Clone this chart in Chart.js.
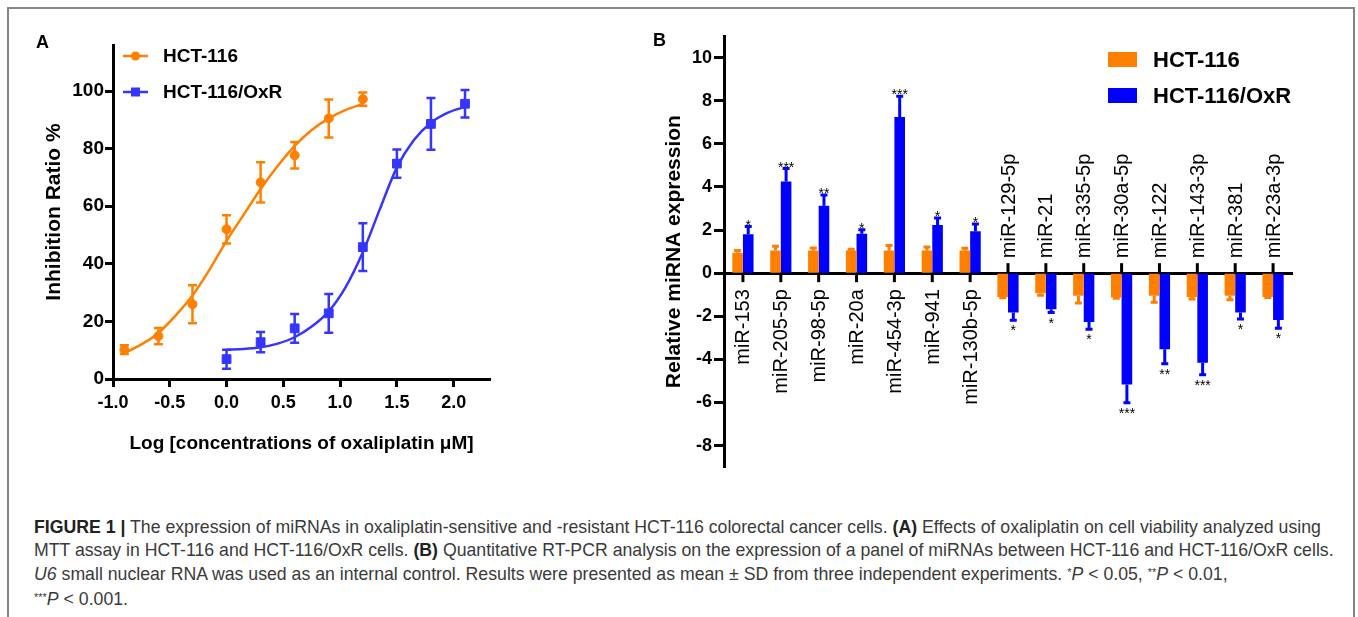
<!DOCTYPE html>
<html>
<head>
<meta charset="utf-8">
<script src="https://cdn.jsdelivr.net/npm/chart.js@4.4.1/dist/chart.umd.min.js"></script>
<style>
  html, body { margin: 0; padding: 0; background: #fff; }
  body { width: 1358px; height: 617px; position: relative; overflow: hidden; font-family: "Liberation Sans", Arial, sans-serif; }
  #frame { position: absolute; left: 7px; top: 7px; width: 1344px; height: 700px; border: 2px solid #858585; }
  .tag { position: absolute; font-weight: bold; font-size: 18px; color: #000; }
  #wrapA { position: absolute; left: 0; top: 0; }
  #wrapB { position: absolute; left: 620px; top: 0; }
  #caption { position: absolute; left: 34px; top: 516px; font-size: 17.7px; line-height: 22.5px; color: #3a3a3a; white-space: nowrap; }
  #caption b { color: #222; }
  .st { font-size: 11px; vertical-align: 4px; }
</style>
</head>
<body>
<div id="frame"></div>
<div id="wrapA"><canvas id="chartA" width="620" height="480"></canvas></div>
<div id="wrapB"><canvas id="chartB" width="738" height="480"></canvas></div>
<div class="tag" style="left:36px; top:32px;">A</div>
<div class="tag" style="left:653px; top:30px;">B</div>
<div id="caption">
<b>FIGURE 1 |</b> The expression of miRNAs in oxaliplatin-sensitive and -resistant HCT-116 colorectal cancer cells. <b>(A)</b> Effects of oxaliplatin on cell viability analyzed using<br>
MTT assay in HCT-116 and HCT-116/OxR cells. <b>(B)</b> Quantitative RT-PCR analysis on the expression of a panel of miRNAs between HCT-116 and HCT-116/OxR cells.<br>
<i>U6</i> small nuclear RNA was used as an internal control. Results were presented as mean ± SD from three independent experiments. <span class="st">*</span><i>P</i> &lt; 0.05, <span class="st">**</span><i>P</i> &lt; 0.01,<br>
<span class="st">***</span><i>P</i> &lt; 0.001.
</div>
<script>
// panel A: dose response (log uM vs inhibition %)
const seriesNames = ['HCT-116', 'HCT-116/OxR'];
const hctDose = [-0.9, -0.6, -0.3, 0.0, 0.3, 0.6, 0.9, 1.2];
const hctInhib = [10.2, 14.9, 26.0, 52.0, 68.3, 77.7, 90.5, 97.2];
const hctInhibSD = [1.5, 2.8, 6.6, 4.9, 7.0, 4.6, 6.6, 2.3];
const oxrDose = [0.0, 0.3, 0.6, 0.9, 1.2, 1.5, 1.8, 2.1];
const oxrInhib = [6.9, 12.8, 17.6, 22.8, 45.8, 74.8, 88.6, 95.6];
const oxrInhibSD = [3.3, 3.5, 5.0, 6.7, 8.3, 4.9, 9.0, 4.8];

// fitted curves
const hctFitX = [-0.9, -0.75, -0.6, -0.45, -0.3, -0.15, 0.0, 0.15, 0.3, 0.45, 0.6, 0.75, 0.9, 1.05, 1.2];
const hctFitY = [9.0, 12.0, 16.0, 22.0, 29.0, 38.0, 48.0, 57.0, 66.0, 74.0, 81.0, 86.5, 90.5, 93.5, 95.5];
const oxrFitX = [0.0, 0.15, 0.3, 0.45, 0.6, 0.75, 0.9, 1.05, 1.2, 1.35, 1.5, 1.65, 1.8, 1.95, 2.1];
const oxrFitY = [10.2, 10.4, 11.0, 12.3, 14.5, 18.2, 23.5, 32.0, 44.0, 59.0, 73.5, 83.0, 89.0, 92.5, 94.5];

const xTicksA = [-1.0, -0.5, 0.0, 0.5, 1.0, 1.5, 2.0];
const yTicksA = [0, 20, 40, 60, 80, 100];

// panel B: relative miRNA expression
const mirLabels = ['miR-153', 'miR-205-5p', 'miR-98-5p', 'miR-20a', 'miR-454-3p', 'miR-941', 'miR-130b-5p',
  'miR-129-5p', 'miR-21', 'miR-335-5p', 'miR-30a-5p', 'miR-122', 'miR-143-3p', 'miR-381', 'miR-23a-3p'];
const hctExpr = [0.95, 1.05, 1.05, 1.05, 1.05, 1.05, 1.05, -1.1, -0.93, -1.05, -1.13, -1.05, -1.1, -1.05, -1.1];
const hctExprSD = [0.1, 0.2, 0.12, 0.06, 0.23, 0.16, 0.1, 0.04, 0.09, 0.33, 0.03, 0.3, 0.1, 0.18, 0.03];
const oxrExpr = [1.81, 4.25, 3.13, 1.83, 7.24, 2.23, 1.94, -1.83, -1.67, -2.26, -5.16, -3.53, -4.16, -1.83, -2.17];
const oxrExprSD = [0.35, 0.6, 0.5, 0.18, 0.96, 0.33, 0.34, 0.35, 0.16, 0.34, 0.85, 0.67, 0.55, 0.3, 0.39];
const sigStars = ['*', '***', '**', '*', '***', '*', '*', '*', '*', '*', '***', '**', '***', '*', '*'];
const yTicksB = [-8, -6, -4, -2, 0, 2, 4, 6, 8, 10];

const ORANGE = '#ff8000';
const BLUE_A = '#3535ff';
const BLUE_B = '#0000ff';
const FONT = '"Liberation Sans", Arial, sans-serif';

Chart.defaults.font.family = FONT;
Chart.defaults.color = '#000';

function pts(xs, ys) {
  return xs.map((x, i) => ({ x: x, y: ys[i] }));
}

// error bars + legend for A
const doseExtras = {
  id: 'doseExtras',
  beforeDatasetsDraw(chart) {
    const { ctx } = chart;
    const y = chart.scales.y;
    const sets = [[0, hctInhib, hctInhibSD, ORANGE], [1, oxrInhib, oxrInhibSD, BLUE_A]];
    ctx.save();
    ctx.lineWidth = 2.5;
    sets.forEach(([di, vals, sds, col]) => {
      const meta = chart.getDatasetMeta(di);
      ctx.strokeStyle = col;
      meta.data.forEach((el, i) => {
        const top = y.getPixelForValue(vals[i] + sds[i]);
        const bot = y.getPixelForValue(vals[i] - sds[i]);
        ctx.beginPath();
        ctx.moveTo(el.x, top); ctx.lineTo(el.x, bot);
        ctx.moveTo(el.x - 4.5, top); ctx.lineTo(el.x + 4.5, top);
        ctx.moveTo(el.x - 4.5, bot); ctx.lineTo(el.x + 4.5, bot);
        ctx.stroke();
      });
    });
    ctx.restore();
  },
  afterDraw(chart) {
    const { ctx } = chart;
    const rows = [[56, ORANGE, 'circle'], [92, BLUE_A, 'rect']];
    ctx.save();
    rows.forEach(([ry, col, shape], i) => {
      ctx.strokeStyle = col;
      ctx.fillStyle = col;
      ctx.lineWidth = 2.5;
      ctx.beginPath();
      ctx.moveTo(123, ry); ctx.lineTo(148, ry);
      ctx.stroke();
      if (shape === 'circle') {
        ctx.beginPath();
        ctx.arc(135.5, ry, 4.5, 0, Math.PI * 2);
        ctx.fill();
      } else {
        ctx.fillRect(131, ry - 4.5, 9, 9);
      }
      ctx.fillStyle = '#000';
      ctx.font = 'bold 19px ' + FONT;
      ctx.textBaseline = 'middle';
      ctx.fillText(seriesNames[i], 163, ry + 1);
    });
    ctx.restore();
  }
};

new Chart(document.getElementById('chartA'), {
  type: 'scatter',
  data: {
    datasets: [
      { label: seriesNames[0], data: pts(hctDose, hctInhib), backgroundColor: ORANGE, borderColor: ORANGE,
        pointStyle: 'circle', pointRadius: 4.5, showLine: false },
      { label: seriesNames[1], data: pts(oxrDose, oxrInhib), backgroundColor: BLUE_A, borderColor: BLUE_A,
        pointStyle: 'rect', pointRadius: 6.2, showLine: false },
      { label: 'fit1', data: pts(hctFitX, hctFitY), borderColor: ORANGE, borderWidth: 2.5,
        pointRadius: 0, showLine: true, cubicInterpolationMode: 'monotone' },
      { label: 'fit2', data: pts(oxrFitX, oxrFitY), borderColor: BLUE_A, borderWidth: 2.5,
        pointRadius: 0, showLine: true, cubicInterpolationMode: 'monotone' }
    ]
  },
  options: {
    responsive: false,
    animation: false,
    layout: { padding: { left: 0, top: 45, right: 130, bottom: 0 } },
    plugins: { legend: { display: false }, tooltip: { enabled: false } },
    scales: {
      x: {
        type: 'linear', min: -1.0, max: 2.32,
        afterFit(s) { s.height = 101; },
        afterBuildTicks(s) { s.ticks = xTicksA.map(v => ({ value: v })); },
        border: { color: '#000', width: 3 },
        grid: { drawOnChartArea: false, tickLength: 8, tickWidth: 3, tickColor: '#000' },
        ticks: { font: { size: 18, weight: 'bold' }, padding: 5, callback: v => v.toFixed(1) },
        title: { display: true, text: 'Log [concentrations of oxaliplatin \u03bcM]', font: { size: 19, weight: 'bold' },
          padding: { top: 0, bottom: 25 } }
      },
      y: {
        min: 0, max: 116,
        afterFit(s) { s.width = 113; },
        afterBuildTicks(s) { s.ticks = yTicksA.map(v => ({ value: v })); },
        border: { color: '#000', width: 3 },
        grid: { drawOnChartArea: false, tickLength: 8, tickWidth: 3, tickColor: '#000' },
        ticks: { font: { size: 19, weight: 'bold' }, padding: 1 },
        title: { display: true, text: 'Inhibition Ratio %', font: { size: 21, weight: 'bold' },
          padding: { top: 42, bottom: 0 } }
      }
    }
  },
  plugins: [doseExtras]
});

// error bars, stars, category labels and legend for B
const exprExtras = {
  id: 'exprExtras',
  afterDatasetsDraw(chart) {
    const { ctx } = chart;
    const xs = chart.scales.x, ys = chart.scales.y;
    const y0 = ys.getPixelForValue(0);
    const sets = [[0, hctExpr, hctExprSD, ORANGE], [1, oxrExpr, oxrExprSD, BLUE_B]];
    ctx.save();
    ctx.lineWidth = 3;
    sets.forEach(([di, vals, sds, col]) => {
      const meta = chart.getDatasetMeta(di);
      ctx.strokeStyle = col;
      meta.data.forEach((el, i) => {
        const v = vals[i];
        const end = ys.getPixelForValue(v >= 0 ? v + sds[i] : v - sds[i]);
        const start = ys.getPixelForValue(v);
        ctx.beginPath();
        ctx.moveTo(el.x, start); ctx.lineTo(el.x, end);
        ctx.moveTo(el.x - 3.5, end); ctx.lineTo(el.x + 3.5, end);
        ctx.stroke();
      });
    });
    // stars above / below the resistant bars
    const metaB = chart.getDatasetMeta(1);
    ctx.fillStyle = '#000';
    ctx.font = '14px ' + FONT;
    ctx.textAlign = 'center';
    ctx.textBaseline = 'alphabetic';
    metaB.data.forEach((el, i) => {
      const v = oxrExpr[i];
      if (v >= 0) {
        const end = ys.getPixelForValue(v + oxrExprSD[i]);
        ctx.fillText(sigStars[i], el.x, end + 3);
      } else {
        const end = ys.getPixelForValue(v - oxrExprSD[i]);
        ctx.fillText(sigStars[i], el.x, end + 15);
      }
    });
    // category ticks and rotated labels
    ctx.strokeStyle = '#000';
    ctx.lineWidth = 3;
    ctx.font = '20px ' + FONT;
    ctx.textBaseline = 'middle';
    mirLabels.forEach((lab, i) => {
      const x = xs.getPixelForValue(i);
      const up = oxrExpr[i] >= 0;
      ctx.beginPath();
      ctx.moveTo(x, y0); ctx.lineTo(x, up ? y0 + 9 : y0 - 10);
      ctx.stroke();
      ctx.save();
      ctx.translate(x + 1, up ? y0 + 16 : y0 - 15);
      ctx.rotate(-Math.PI / 2);
      ctx.textAlign = up ? 'right' : 'left';
      ctx.fillText(lab, 0, 0);
      ctx.restore();
    });
    ctx.restore();
  },
  afterDraw(chart) {
    const { ctx } = chart;
    const rows = [[59.5, ORANGE], [95.5, BLUE_B]];
    ctx.save();
    rows.forEach(([ry, col], i) => {
      ctx.fillStyle = col;
      ctx.fillRect(488, ry - 7.5, 29, 15);
      ctx.fillStyle = '#000';
      ctx.font = 'bold 22px ' + FONT;
      ctx.textBaseline = 'middle';
      ctx.fillText(seriesNames[i], 533, ry + 1);
    });
    ctx.restore();
  }
};

new Chart(document.getElementById('chartB'), {
  type: 'bar',
  data: {
    labels: mirLabels,
    datasets: [
      { label: seriesNames[0], data: hctExpr, backgroundColor: ORANGE, borderWidth: 0 },
      { label: seriesNames[1], data: oxrExpr, backgroundColor: BLUE_B, borderWidth: 0 }
    ]
  },
  options: {
    responsive: false,
    animation: false,
    layout: { padding: { left: 0, top: 36, right: 66, bottom: 12 } },
    datasets: { bar: { categoryPercentage: 0.56, barPercentage: 1.0 } },
    plugins: { legend: { display: false }, tooltip: { enabled: false } },
    scales: {
      x: {
        position: { y: 0 },
        z: 1,
        border: { color: '#000', width: 3 },
        grid: { display: false },
        ticks: { display: false }
      },
      y: {
        min: -9, max: 11,
        afterFit(s) { s.width = 104; },
        afterBuildTicks(s) { s.ticks = yTicksB.map(v => ({ value: v })); },
        border: { color: '#000', width: 3 },
        grid: { drawOnChartArea: false, tickLength: 10, tickWidth: 3, tickColor: '#000' },
        ticks: { font: { size: 18, weight: 'bold' }, padding: 2 },
        title: { display: true, text: 'Relative miRNA expression', font: { size: 21, weight: 'bold' },
          padding: { top: 42, bottom: 0 } }
      }
    }
  },
  plugins: [exprExtras]
});
</script>
</body>
</html>
